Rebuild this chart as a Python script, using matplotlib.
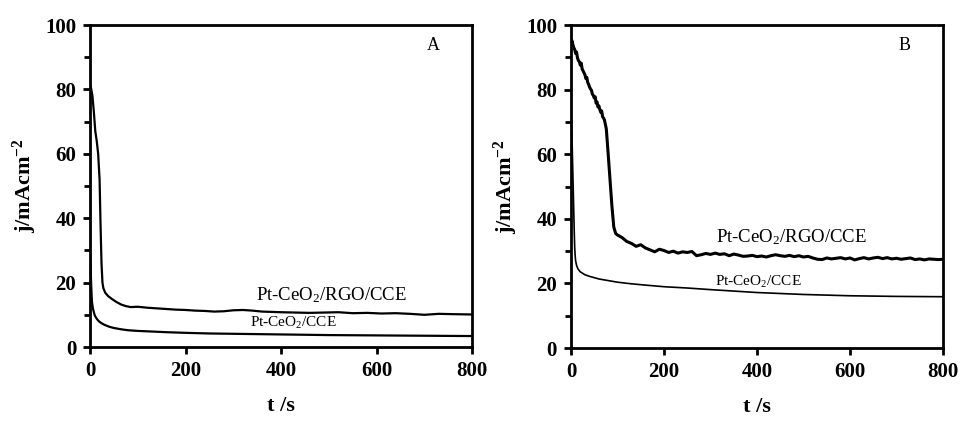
import numpy as np
import matplotlib
matplotlib.use("Agg")
import matplotlib.pyplot as plt
from matplotlib.ticker import MultipleLocator

plt.rcParams["font.family"] = ["Liberation Serif", "DejaVu Serif"]
plt.rcParams["mathtext.fontset"] = "custom"
plt.rcParams["mathtext.rm"] = "Liberation Serif"
plt.rcParams["mathtext.bf"] = "Liberation Serif:bold"
plt.rcParams["mathtext.default"] = "regular"

# Panel A: chronoamperometry, Pt-CeO2/RGO/CCE
A_RGO_T = [0, 2, 5, 8, 11, 14, 17, 20, 22, 24, 26, 28, 32, 38, 45, 55, 65, 75, 85,
           100, 120, 140, 160, 180, 200, 220, 240, 260, 280, 300, 320, 340, 360, 380,
           400, 430, 460, 490, 520, 550, 580, 610, 640, 670, 700, 730, 760, 800]
A_RGO_J = [81.5, 80.5, 78.0, 73.0, 67.0, 64.0, 60.0, 52.0, 38.0, 26.0, 20.0, 18.2, 16.8,
           15.8, 15.0, 14.0, 13.2, 12.7, 12.4, 12.5, 12.2, 12.0, 11.8, 11.6, 11.5, 11.3,
           11.2, 11.0, 11.1, 11.4, 11.5, 11.3, 11.0, 10.9, 10.8, 10.7, 10.6, 10.7, 10.8,
           10.5, 10.6, 10.4, 10.5, 10.3, 10.0, 10.3, 10.2, 10.1]

# Panel A: Pt-CeO2/CCE
A_CCE_T = [0, 1, 2, 3, 4, 6, 8, 10, 13, 16, 20, 25, 30, 40, 50, 65, 80, 100, 130, 160,
           200, 250, 300, 350, 400, 500, 600, 700, 800]
A_CCE_J = [30.0, 26.0, 21.0, 17.0, 14.0, 12.0, 10.8, 9.8, 9.0, 8.4, 7.8, 7.3, 6.9, 6.3,
           5.9, 5.5, 5.2, 5.0, 4.8, 4.6, 4.4, 4.2, 4.1, 4.0, 3.9, 3.7, 3.6, 3.5, 3.4]

# Panel B: Pt-CeO2/RGO/CCE (noisy trace)
B_RGO_T = [0, 2, 4, 6, 8, 10, 12, 14, 16, 18, 20, 22, 24, 26, 28, 30, 32, 34, 36, 38,
           40, 42, 44, 46, 48, 50, 52, 54, 56, 58, 60, 62, 64, 66, 68, 70, 72, 74, 76,
           80, 84, 88, 92, 96, 100,
           110, 120, 130, 140, 150, 160, 170, 180, 190, 200, 210, 220, 230, 240, 250,
           260, 270, 280, 290, 300, 310, 320, 330, 340, 350, 360, 370, 380, 390, 400,
           410, 420, 430, 440, 450, 460, 470, 480, 490, 500, 510, 520, 530, 540, 550,
           560, 570, 580, 590, 600, 610, 620, 630, 640, 650, 660, 670, 680, 690, 700,
           710, 720, 730, 740, 750, 760, 770, 780, 790, 800]
B_RGO_J = [94.0, 95.2, 94.0, 93.0, 92.4, 91.2, 91.6, 89.8, 89.0, 88.6, 87.6, 88.2, 86.4,
           85.8, 85.2, 84.6, 83.4, 83.8, 82.2, 81.6, 80.8, 80.2, 79.8, 78.6, 78.2, 77.4,
           77.8, 75.8, 76.2, 74.6, 75.0, 73.8, 73.0, 73.4, 71.6, 71.2, 70.6, 69.2, 67.8,
           60.0, 52.0, 44.0, 37.5, 35.5, 35.0,
           34.2, 33.0, 32.4, 31.5, 32.0, 31.0, 30.4, 29.8, 30.6, 30.2, 29.6, 30.0, 29.4,
           29.8, 29.6, 29.9, 28.6, 28.9, 29.3, 29.0, 29.4, 29.0, 29.2, 28.6, 29.1, 28.8,
           28.4, 28.5, 28.7, 28.3, 28.5, 28.2, 28.6, 28.9, 28.6, 28.4, 28.7, 28.3, 28.6,
           28.2, 28.4, 27.9, 27.5, 27.4, 27.9, 27.6, 27.8, 28.0, 27.6, 27.9, 27.3, 27.7,
           28.0, 27.6, 27.9, 28.1, 27.7, 28.0, 27.6, 27.8, 27.5, 27.7, 27.9, 27.4, 27.6,
           27.3, 27.6, 27.5, 27.4, 27.5]

# Panel B: Pt-CeO2/CCE
B_CCE_T = [0, 1, 2, 3, 4, 5, 6, 7, 8, 9, 10, 12, 15, 20, 30, 40, 60, 80, 100, 130, 160,
           200, 250, 300, 400, 500, 600, 700, 800]
B_CCE_J = [74.0, 70.0, 66.0, 60.0, 54.0, 48.0, 42.0, 36.0, 31.0, 28.5, 27.0, 25.6, 24.5,
           23.6, 22.7, 22.2, 21.4, 20.9, 20.4, 19.9, 19.5, 19.0, 18.6, 18.1, 17.2, 16.6,
           16.2, 16.0, 15.9]

RGO_LABEL = "Pt-CeO$_2$/RGO/CCE"
CCE_LABEL = "Pt-CeO$_2$/CCE"


def style_axes(ax, letter):
    ax.set_xlim(0, 800)
    ax.set_ylim(0, 100)
    ax.xaxis.set_major_locator(MultipleLocator(200))
    ax.yaxis.set_major_locator(MultipleLocator(20))
    ax.yaxis.set_minor_locator(MultipleLocator(10))
    for s in ax.spines.values():
        s.set_linewidth(2.0)
    ax.tick_params(which="both", direction="out", width=2.0, labelsize=15, pad=5)
    ax.tick_params(which="major", length=5)
    ax.tick_params(which="minor", length=4)
    for lab in ax.get_xticklabels() + ax.get_yticklabels():
        lab.set_fontweight("bold")
    ax.set_xlabel("t /s", fontsize=16, fontweight="bold", labelpad=11)
    ax.set_ylabel("j/mAcm$^{-2}$", fontsize=16, fontweight="bold", labelpad=4)
    ax.text(718, 93.7, letter, fontsize=13, ha="center", va="center")


fig = plt.figure(figsize=(9.65, 4.24), dpi=100)

ax_a = fig.add_axes([0.0933, 0.1816, 0.396, 0.7594])
ax_a.plot(A_RGO_T, A_RGO_J, color="black", lw=1.6)
ax_a.plot(A_CCE_T, A_CCE_J, color="black", lw=1.6)
style_axes(ax_a, "A")
ax_a.text(505, 16.0, RGO_LABEL, fontsize=13.5, ha="center", va="center")
ax_a.text(425, 7.5, CCE_LABEL, fontsize=11, ha="center", va="center")

ax_b = fig.add_axes([0.5917, 0.179, 0.3855, 0.762])
ax_b.plot(B_RGO_T, B_RGO_J, color="black", lw=2.2)
ax_b.plot(B_CCE_T, B_CCE_J, color="black", lw=1.2)
style_axes(ax_b, "B")
ax_b.text(475, 34.4, RGO_LABEL, fontsize=13.5, ha="center", va="center")
ax_b.text(402, 20.4, CCE_LABEL, fontsize=11, ha="center", va="center")

fig.savefig("out.png", dpi=100)
